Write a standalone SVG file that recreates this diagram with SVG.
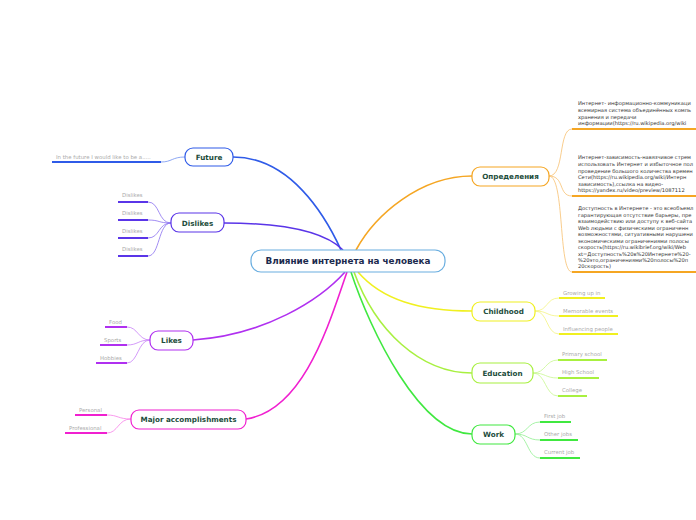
<svg xmlns="http://www.w3.org/2000/svg" width="696" height="520" viewBox="0 0 696 520">
<style>
.node{fill:#fff;stroke-width:1.2}
.nt{font-family:"DejaVu Sans",Verdana,sans-serif;font-weight:bold;font-size:7.2px;fill:#1d4d3c;text-anchor:middle}
.ct{font-family:"DejaVu Sans",Verdana,sans-serif;font-weight:bold;font-size:8.8px;fill:#1b2a4e;text-anchor:middle}
.lt{font-family:"DejaVu Sans",Verdana,sans-serif;font-size:5.4px;fill:#aaa}
.dt{font-family:"DejaVu Sans",Verdana,sans-serif;font-size:5.15px;fill:#333}
.c{fill:none;stroke-width:1.6}
.lc{fill:none;stroke-width:0.8}
.ul{fill:none;stroke-width:2}
</style>
<rect width="696" height="520" fill="#fff"/>
<g id="connectors">
  <path class="c" stroke="#2f5be8" d="M233,157 C290,157 325,215 341,250"/>
  <path class="c" stroke="#5a35e8" d="M224,223 C285,223 325,232 343,250"/>
  <path class="c" stroke="#b030f0" d="M193,340 C265,335 320,300 345,272"/>
  <path class="c" stroke="#f020d0" d="M246,419 C305,410 330,320 347,272"/>
  <path class="c" stroke="#f5a623" d="M472,176 C420,176 375,215 356,250"/>
  <path class="c" stroke="#f0f020" d="M472,311 C420,311 382,300 358,272"/>
  <path class="c" stroke="#a8f040" d="M472,373 C420,373 375,330 354,272"/>
  <path class="c" stroke="#40e840" d="M472,434 C420,434 370,330 351,272"/>
  <path class="lc" stroke="#7090f0" d="M185,157 C172,157 172,162 161,162"/>
  <path class="lc" stroke="#8a70f0" d="M171,223 C158,223 160,202 148,202 M171,223 C158,223 160,220 148,220 M171,223 C158,223 160,238 148,238 M171,223 C158,223 160,256 148,256"/>
  <path class="lc" stroke="#c880f8" d="M150,340 C138,340 138,327 127,327 M150,340 C138,340 138,345 127,345 M150,340 C138,340 138,363 127,363"/>
  <path class="lc" stroke="#f880e8" d="M131,419 C118,419 118,415 107,415 M131,419 C118,419 118,433 107,433"/>
  <path class="lc" stroke="#f8c070" d="M549,176 C565,176 558,129 572,129 M549,176 C565,176 558,196 572,196 M549,176 C565,176 558,272 572,272"/>
  <path class="lc" stroke="#f4f480" d="M535,311 C548,311 546,298 559,298 M535,311 C548,311 546,316 559,316 M535,311 C548,311 546,334 559,334"/>
  <path class="lc" stroke="#c8f890" d="M533,373 C546,373 545,360 558,360 M533,373 C546,373 545,378 558,378 M533,373 C546,373 545,396 558,396"/>
  <path class="lc" stroke="#90f090" d="M515,434 C528,434 527,422 540,422 M515,434 C528,434 527,440 540,440 M515,434 C528,434 527,458 540,458"/>
</g>
<g id="central">
  <rect class="node" x="251" y="250" width="194" height="22" rx="10" stroke="#6aaee0"/>
  <text class="ct" x="348" y="264">Влияние интернета на человека</text>
</g>
<g id="future">
  <rect class="node" x="185" y="148" width="48" height="18" rx="8" stroke="#2f5be8"/>
  <text class="nt" x="209" y="160">Future</text>
</g>
<g id="future-leaf">
  <text class="lt" x="56" y="159">In the future I would like to be a.....</text>
  <path class="ul" stroke="#2f5be8" d="M52,162 H161"/>
</g>
<g id="dislikes">
  <rect class="node" x="171" y="213" width="53" height="19" rx="8" stroke="#5a35e8"/>
  <text class="nt" x="197.5" y="225.5">Dislikes</text>
</g>
<g id="dislikes-leaves">
  <text class="lt" x="122" y="197">Dislikes</text>
  <path class="ul" stroke="#5a35e8" d="M118,202 H148"/>
  <text class="lt" x="122" y="215">Dislikes</text>
  <path class="ul" stroke="#5a35e8" d="M118,220 H148"/>
  <text class="lt" x="122" y="233">Dislikes</text>
  <path class="ul" stroke="#5a35e8" d="M118,238 H148"/>
  <text class="lt" x="122" y="251">Dislikes</text>
  <path class="ul" stroke="#5a35e8" d="M118,256 H148"/>
</g>
<g id="likes">
  <rect class="node" x="150" y="331" width="43" height="19" rx="8" stroke="#b030f0"/>
  <text class="nt" x="171.5" y="343">Likes</text>
</g>
<g id="likes-leaves">
  <text class="lt" x="109" y="324">Food</text>
  <path class="ul" stroke="#b030f0" d="M105,327 H127"/>
  <text class="lt" x="104" y="342">Sports</text>
  <path class="ul" stroke="#b030f0" d="M100,345 H127"/>
  <text class="lt" x="100" y="360">Hobbies</text>
  <path class="ul" stroke="#b030f0" d="M96,363 H127"/>
</g>
<g id="major">
  <rect class="node" x="131" y="410" width="115" height="19" rx="8" stroke="#f020d0"/>
  <text class="nt" x="188.5" y="422">Major accomplishments</text>
</g>
<g id="major-leaves">
  <text class="lt" x="79" y="412">Personal</text>
  <path class="ul" stroke="#f020d0" d="M75,415 H107"/>
  <text class="lt" x="69" y="430">Professional</text>
  <path class="ul" stroke="#f020d0" d="M65,433 H107"/>
</g>
<g id="definitions">
  <rect class="node" x="472" y="167" width="77" height="19" rx="8" stroke="#f5a623"/>
  <text class="nt" x="510.5" y="179">Определения</text>
</g>
<g id="def1">
  <text class="dt" x="578" y="105">Интернет- информационно-коммуникаци</text>
  <text class="dt" x="578" y="112">всемирная система объединённых компь</text>
  <text class="dt" x="578" y="119">хранения и передачи</text>
  <text class="dt" x="578" y="125">информации(https://ru.wikipedia.org/wiki</text>
  <path class="ul" stroke="#f5a623" d="M572,129 H696"/>
</g>
<g id="def2">
  <text class="dt" x="578" y="159">Интернет-зависимость-навязчивое стрем</text>
  <text class="dt" x="578" y="166">использовать Интернет и избыточное пол</text>
  <text class="dt" x="578" y="173">проведение большого количества времен</text>
  <text class="dt" x="578" y="179">Сети(https://ru.wikipedia.org/wiki/Интерн</text>
  <text class="dt" x="578" y="186">зависимость),ссылка на видео-</text>
  <text class="dt" x="578" y="192">https://yandex.ru/video/preview/1087112</text>
  <path class="ul" stroke="#f5a623" d="M572,196 H696"/>
</g>
<g id="def3">
  <text class="dt" x="578" y="210">Доступность в Интернете - это всеобъемл</text>
  <text class="dt" x="578" y="217">гарантирующая отсутствие барьеры, пре</text>
  <text class="dt" x="578" y="223">взаимодействию или доступу к веб-сайта</text>
  <text class="dt" x="578" y="230">Web людьми с физическими ограниченн</text>
  <text class="dt" x="578" y="236">возможностями, ситуативными нарушени</text>
  <text class="dt" x="578" y="243">экономическими ограничениями полосы</text>
  <text class="dt" x="578" y="249">скорость(https://ru.wikibrief.org/wiki/Web</text>
  <text class="dt" x="578" y="256">xt=Доступность%20в%20Интернете%20-</text>
  <text class="dt" x="578" y="262">%20это,ограничениями%20полосы%20п</text>
  <text class="dt" x="578" y="268">20скорость)</text>
  <path class="ul" stroke="#f5a623" d="M572,272 H696"/>
</g>
<g id="childhood">
  <rect class="node" x="472" y="302" width="63" height="19" rx="8" stroke="#f0f020"/>
  <text class="nt" x="503.5" y="314">Childhood</text>
</g>
<g id="childhood-leaves">
  <text class="lt" x="563" y="295">Growing up in</text>
  <path class="ul" stroke="#f0f020" d="M559,298 H605"/>
  <text class="lt" x="563" y="313">Memorable events</text>
  <path class="ul" stroke="#f0f020" d="M559,316 H618"/>
  <text class="lt" x="563" y="331">Influencing people</text>
  <path class="ul" stroke="#f0f020" d="M559,334 H618"/>
</g>
<g id="education">
  <rect class="node" x="472" y="363" width="61" height="20" rx="8" stroke="#a8f040"/>
  <text class="nt" x="502.5" y="375.5">Education</text>
</g>
<g id="education-leaves">
  <text class="lt" x="562" y="356">Primary school</text>
  <path class="ul" stroke="#a8f040" d="M558,360 H607"/>
  <text class="lt" x="562" y="374">High School</text>
  <path class="ul" stroke="#a8f040" d="M558,378 H599"/>
  <text class="lt" x="562" y="392">College</text>
  <path class="ul" stroke="#a8f040" d="M558,396 H587"/>
</g>
<g id="work">
  <rect class="node" x="472" y="425" width="43" height="19" rx="8" stroke="#40e840"/>
  <text class="nt" x="493.5" y="437">Work</text>
</g>
<g id="work-leaves">
  <text class="lt" x="544" y="418">First job</text>
  <path class="ul" stroke="#40e840" d="M540,422 H571"/>
  <text class="lt" x="544" y="436">Other jobs</text>
  <path class="ul" stroke="#40e840" d="M540,440 H578"/>
  <text class="lt" x="544" y="454">Current job</text>
  <path class="ul" stroke="#40e840" d="M540,458 H580"/>
</g>
</svg>
